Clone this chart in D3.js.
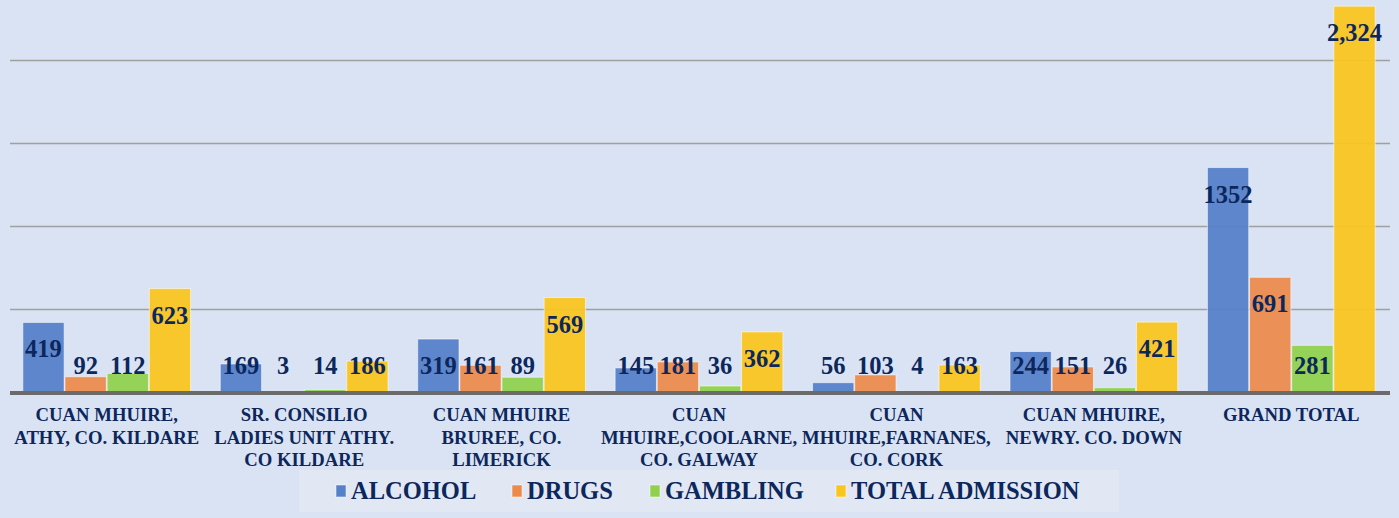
<!DOCTYPE html>
<html>
<head>
<meta charset="utf-8">
<script src="https://cdn.jsdelivr.net/npm/d3@7"></script>
<style>
  body { margin: 0; background: #dae3f3; }
  svg { display: block; }
</style>
</head>
<body>
<script>
// data
var categories = [
  ["CUAN MHUIRE,", "ATHY, CO. KILDARE"],
  ["SR. CONSILIO", "LADIES UNIT ATHY.", "CO KILDARE"],
  ["CUAN MHUIRE", "BRUREE, CO.", "LIMERICK"],
  ["CUAN", "MHUIRE,COOLARNE,", "CO. GALWAY"],
  ["CUAN", "MHUIRE,FARNANES,", "CO. CORK"],
  ["CUAN MHUIRE,", "NEWRY. CO. DOWN"],
  ["GRAND TOTAL"]
];
var seriesNames = ["ALCOHOL", "DRUGS", "GAMBLING", "TOTAL ADMISSION"];
var alcohol  = [419, 169, 319, 145, 56, 244, 1352];
var drugs    = [92, 3, 161, 181, 103, 151, 691];
var gambling = [112, 14, 89, 36, 4, 26, 281];
var total    = [623, 186, 569, 362, 163, 421, 2324];
var labelText = [null, null, null, null, null, null, ["1352", "691", "281", "2,324"]];
var gridTicks = [500, 1000, 1500, 2000];

var colors = ["#5680c9", "#ec8a4b", "#91d04e", "#f9c51f"];
var textColor = "#0c275c";
var font = "'Liberation Serif', 'Times New Roman', serif";

var w = 1399, h = 518;
var baseY = 392;

var svg = d3.select("body").append("svg").attr("width", w).attr("height", h);
svg.append("rect").attr("width", w).attr("height", h).attr("fill", "#dae3f3");

var series = [alcohol, drugs, gambling, total];
var rows = categories.map(function(c, i) {
  return series.map(function(s, j) { return {cat: i, ser: j, v: s[i]}; });
});

// scales
var x0 = d3.scaleBand().domain(d3.range(categories.length)).range([8, 1390]).padding(0);
var x1 = d3.scaleBand().domain(d3.range(4)).range([14, x0.bandwidth() - 14]).padding(0.02);
var y = d3.scaleLinear().domain([0, 2500]).range([baseY, -23]);

// gridlines
var grid = svg.append("g").attr("transform", "translate(10,0)")
  .call(d3.axisLeft(y).tickValues(gridTicks).tickSize(-(1390 - 10)).tickFormat(""));
grid.select(".domain").remove();
grid.selectAll("line").attr("stroke", "#a0a0a0").attr("stroke-width", 1.5);

// bars
var groups = svg.selectAll("g.grp")
  .data(rows)
  .enter()
  .append("g")
  .attr("class", "grp")
  .attr("transform", function(d, i) { return "translate(" + x0(i) + ",0)"; });

groups.selectAll("rect")
  .data(function(d) { return d; })
  .enter()
  .append("rect")
  .attr("x", function(d) { return x1(d.ser); })
  .attr("y", function(d) { return y(d.v); })
  .attr("width", x1.bandwidth())
  .attr("height", function(d) { return baseY - y(d.v); })
  .attr("fill", function(d) { return colors[d.ser]; })
  .attr("fill-opacity", 0.94)
  .attr("stroke", "rgba(255,255,255,0.55)")
  .attr("stroke-width", 1);

// baseline
svg.append("line")
  .attr("x1", 10).attr("x2", 1390)
  .attr("y1", baseY + 1).attr("y2", baseY + 1)
  .attr("stroke", "#6b6b6b").attr("stroke-width", 4);

// value labels
groups.selectAll("text.val")
  .data(function(d) { return d; })
  .enter()
  .append("text")
  .attr("class", "val")
  .text(function(d) {
    var t = labelText[d.cat];
    return t ? t[d.ser] : d.v;
  })
  .attr("x", function(d) { return x1(d.ser) + x1.bandwidth() / 2; })
  .attr("y", function(d) { return Math.min(y(d.v) + 27, baseY - 26) + 8; })
  .attr("text-anchor", "middle")
  .attr("font-family", font)
  .attr("font-weight", "bold")
  .attr("font-size", "24.5px")
  .attr("fill", textColor);

// category labels
var catLabels = svg.selectAll("text.cat")
  .data(categories)
  .enter()
  .append("text")
  .attr("class", "cat")
  .attr("text-anchor", "middle")
  .attr("font-family", font)
  .attr("font-weight", "bold")
  .attr("font-size", "18.7px")
  .attr("fill", textColor);

catLabels.selectAll("tspan")
  .data(function(d, i) { return d.map(function(s) { return {s: s, i: i}; }); })
  .enter()
  .append("tspan")
  .attr("x", function(d) { return x0(d.i) + x0.bandwidth() / 2; })
  .attr("y", function(d, k) { return 421 + k * 22.5; })
  .text(function(d) { return d.s; });

// legend
svg.append("rect")
  .attr("x", 299).attr("y", 470).attr("width", 820).attr("height", 42)
  .attr("fill", "#e2e8f3");

var legendX = [336, 512, 650, 836];
var leg = svg.selectAll("g.leg")
  .data(seriesNames)
  .enter()
  .append("g")
  .attr("class", "leg")
  .attr("transform", function(d, i) { return "translate(" + legendX[i] + ",0)"; });

leg.append("rect")
  .attr("x", 0).attr("y", 485).attr("width", 10).attr("height", 12)
  .attr("fill", function(d, i) { return colors[i]; })
  .attr("stroke", "rgba(255,255,255,0.5)");

leg.append("text")
  .attr("x", 15).attr("y", 499)
  .text(function(d) { return d; })
  .attr("font-family", font)
  .attr("font-weight", "bold")
  .attr("font-size", "24.5px")
  .attr("fill", textColor);
</script>
</body>
</html>
